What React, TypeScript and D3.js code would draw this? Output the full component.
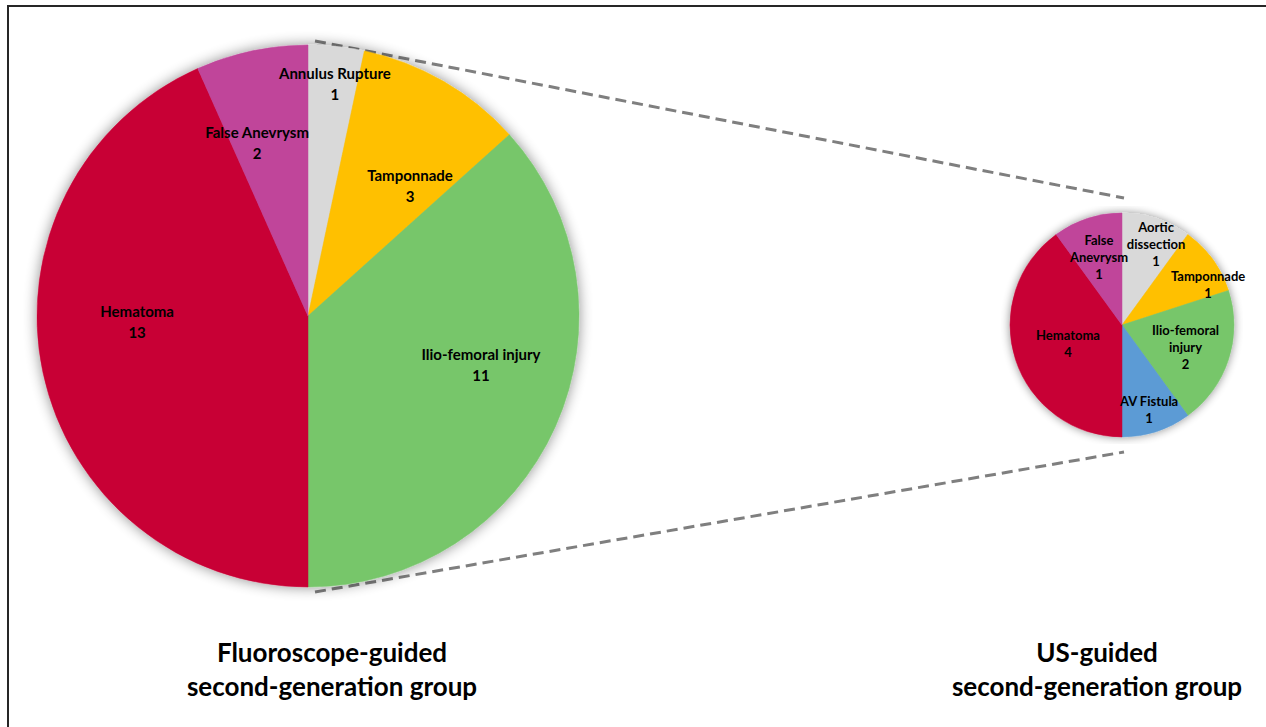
import React from "react";
import * as d3 from "d3";

// Complications per group
const fluoroCategories = [
  ["Annulus Rupture"],
  ["Tamponnade"],
  ["Ilio-femoral injury"],
  ["Hematoma"],
  ["False Anevrysm"],
];
const fluoroValues = [1, 3, 11, 13, 2];
const fluoroColors = ["#d9d9d9", "#ffc000", "#77c66b", "#c80036", "#c0449a"];

const usCategories = [
  ["Aortic", "dissection"],
  ["Tamponnade"],
  ["Ilio-femoral", "injury"],
  ["AV Fistula"],
  ["Hematoma"],
  ["False", "Anevrysm"],
];
const usValues = [1, 1, 2, 1, 4, 1];
const usColors = ["#d9d9d9", "#ffc000", "#77c66b", "#5b9bd5", "#c80036", "#c0449a"];

const groupTitles = [
  ["Fluoroscope-guided", "second-generation group"],
  ["US-guided", "second-generation group"],
];

// Label anchors as [radius fraction, angle in degrees clockwise from 12 o'clock]
const fluoroLabelPos: [number, number][] = [
  [0.864, 6.6],
  [0.61, 38.1],
  [0.663, 105.7],
  [0.631, 268],
  [0.669, 343.7],
];
const usLabelPos: [number, number][] = [
  [0.785, 22.8],
  [0.85, 64.8],
  [0.6, 109],
  [0.79, 162.2],
  [0.51, 251],
  [0.64, 341.3],
];

const FONT = "Lato, 'Open Sans', sans-serif";

type PieProps = {
  id: string;
  cx: number;
  cy: number;
  r: number;
  values: number[];
  names: string[][];
  colors: string[];
  labelPos: [number, number][];
  fontSize: number;
  lineH: number;
};

function Pie({ id, cx, cy, r, values, names, colors, labelPos, fontSize, lineH }: PieProps) {
  const pie = d3.pie<number>().sort(null).value((d) => d).startAngle(0).endAngle(2 * Math.PI);
  const arcs = pie(values);
  const arc = d3.arc<d3.PieArcDatum<number>>().innerRadius(0).outerRadius(r);
  return (
    <g transform={`translate(${cx},${cy})`}>
      <g filter={`url(#${id}-shadow)`}>
        {arcs.map((a, i) => (
          <path key={i} d={arc(a) || ""} fill={colors[i]} stroke={colors[i]} strokeWidth={0.5} />
        ))}
      </g>
      {arcs.map((a, i) => {
        const [f, deg] = labelPos[i];
        const ang = (deg * Math.PI) / 180;
        const lx = Math.sin(ang) * f * r;
        const ly = -Math.cos(ang) * f * r;
        const lines = [...names[i], String(values[i])];
        const y0 = ly - ((lines.length - 1) * lineH) / 2;
        return (
          <text
            key={i}
            textAnchor="middle"
            fontFamily={FONT}
            fontWeight="bold"
            fontSize={fontSize}
            fill="#000"
          >
            {lines.map((t, j) => (
              <tspan key={j} x={lx} y={y0 + j * lineH} dominantBaseline="central">
                {t}
              </tspan>
            ))}
          </text>
        );
      })}
    </g>
  );
}

export default function App() {
  const W = 1266;
  const H = 727;
  const big = { cx: 308, cy: 316, r: 271 };
  const small = { cx: 1122, cy: 325, r: 112 };

  return (
    <svg
      width={W}
      height={H}
      style={{ position: "fixed", left: 0, top: 0, background: "#fff" }}
    >
      <defs>
        {["big", "small"].map((k) => (
          <filter key={k} id={`${k}-shadow`} x="-4%" y="-3%" width="108%" height="106%">
            <feGaussianBlur in="SourceAlpha" stdDeviation={k === "big" ? 7 : 5} result="b" />
            <feComponentTransfer in="b" result="s">
              <feFuncA type="linear" slope={0.45} />
            </feComponentTransfer>
            <feMerge>
              <feMergeNode in="s" />
              <feMergeNode in="SourceGraphic" />
            </feMerge>
          </filter>
        ))}
      </defs>

      <rect x={8} y={6} width={1400} height={900} fill="none" stroke="#262626" strokeWidth={2} />

      {/* connector lines between the two pies */}
      <line x1={315} y1={41} x2={1124} y2={198} stroke="#7f7f7f" strokeWidth={3} strokeDasharray="11 6" />
      <line x1={315} y1={592} x2={1124} y2={452} stroke="#7f7f7f" strokeWidth={3} strokeDasharray="11 6" />

      <Pie
        id="big"
        {...big}
        values={fluoroValues}
        names={fluoroCategories}
        colors={fluoroColors}
        labelPos={fluoroLabelPos}
        fontSize={15}
        lineH={21}
      />
      <Pie
        id="small"
        {...small}
        values={usValues}
        names={usCategories}
        colors={usColors}
        labelPos={usLabelPos}
        fontSize={13}
        lineH={17}
      />

      {[332, 1097].map((x, gi) => (
        <text key={gi} textAnchor="middle" fontFamily={FONT} fontWeight="bold" fontSize={26} fill="#000">
          {groupTitles[gi].map((t, j) => (
            <tspan key={j} x={x} y={652 + j * 34} dominantBaseline="central">
              {t}
            </tspan>
          ))}
        </text>
      ))}
    </svg>
  );
}
